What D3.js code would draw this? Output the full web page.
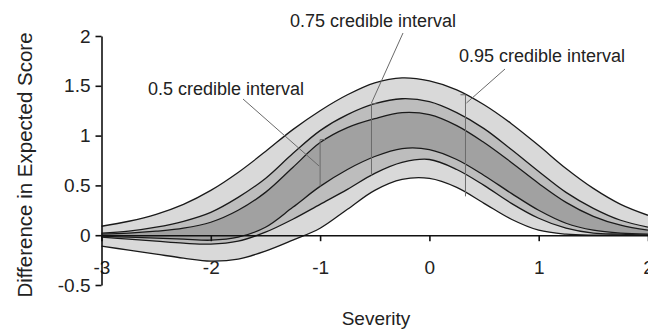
<!DOCTYPE html>
<html><head><meta charset="utf-8">
<script src="https://cdn.jsdelivr.net/npm/d3@7"></script>
<style>
html,body{margin:0;padding:0;background:#fff;}
svg{display:block;font-family:"Liberation Sans",Arial,sans-serif;}
</style></head>
<body><svg id="c" width="648" height="331"></svg>
<script>
// ---- data ----
const severity = [-3,-2.75,-2.5,-2.25,-2,-1.75,-1.5,-1.25,-1,-0.75,-0.5,-0.25,0,0.25,0.5,0.75,1,1.25,1.5,1.75,2];
const upper95 = [0.09,0.14,0.21,0.31,0.45,0.63,0.84,1.06,1.25,1.41,1.53,1.58,1.55,1.46,1.31,1.12,0.90,0.67,0.47,0.31,0.20];
const upper75 = [0.02,0.04,0.08,0.14,0.23,0.38,0.57,0.82,1.05,1.21,1.32,1.37,1.34,1.23,1.07,0.86,0.64,0.43,0.27,0.15,0.08];
const upper50 = [0.01,0.02,0.04,0.07,0.13,0.25,0.43,0.68,0.93,1.08,1.17,1.23,1.21,1.10,0.93,0.73,0.52,0.33,0.19,0.10,0.05];
const lower50 = [-0.01,-0.02,-0.03,-0.04,-0.05,-0.02,0.08,0.28,0.49,0.66,0.79,0.87,0.86,0.76,0.60,0.42,0.25,0.12,0.05,0.02,0.01];
const lower75 = [-0.02,-0.04,-0.06,-0.08,-0.09,-0.06,0.03,0.16,0.31,0.46,0.62,0.73,0.76,0.66,0.50,0.32,0.17,0.07,0.02,0.01,0.0];
const lower95 = [-0.11,-0.15,-0.19,-0.23,-0.26,-0.24,-0.16,-0.05,0.07,0.26,0.45,0.56,0.57,0.48,0.32,0.16,0.05,0.01,0.0,0.0,0.0];
const xTicks = [-3,-2,-1,0,1,2];
const yTicks = [-0.5,0,0.5,1,1.5,2];
const intervalNames = ["0.5 credible interval","0.75 credible interval","0.95 credible interval"];
const markerX = [-1,-0.53,0.33];
const markerTop = [0.96,1.32,1.41];
const markerBottom = [0.49,0.60,0.39];

// ---- layout ----
const svg = d3.select("#c");
const x = d3.scaleLinear().domain([-3,2]).range([101.5,648]);
const y = d3.scaleLinear().domain([-0.5,2]).range([285,36]);
const curve = d3.curveCatmullRom.alpha(0.5);

const bands = [
  {u:upper95,l:lower95,fill:"#d9d9d9"},
  {u:upper75,l:lower75,fill:"#bdbdbd"},
  {u:upper50,l:lower50,fill:"#a1a1a1"}
];
const area = d3.area().curve(curve);
bands.forEach(b=>{
  const pts = severity.map((s,i)=>({x:s,u:b.u[i],l:b.l[i]}));
  svg.append("path").datum(pts)
    .attr("d", area.x(d=>x(d.x)).y0(d=>y(d.l)).y1(d=>y(d.u)))
    .attr("fill", b.fill);
});
const line = d3.line().curve(curve);
[upper95,upper75,upper50,lower50,lower75,lower95].forEach(arr=>{
  svg.append("path").datum(severity.map((s,i)=>[x(s),y(arr[i])]))
    .attr("d", line).attr("fill","none").attr("stroke","#1a1a1a").attr("stroke-width",1.3);
});

// markers and leaders
const capDir = [1,1,-1];
markerX.forEach((m,i)=>{
  const g = svg.append("g").attr("stroke","#6a6a6a").attr("stroke-width",1).attr("fill","none");
  g.append("path").attr("d",`M${x(m)+capDir[i]*5},${y(markerTop[i])}H${x(m)}V${y(markerBottom[i])}`);
});
const labelPos = [[148,95],[290,27],[459,62]];
const leaderStart = [[243,99],[403,33],[505,69]];
const leaderEnd = [[x(markerX[0])-1,166],[x(markerX[1]),103],[x(markerX[2])+1,103]];
intervalNames.forEach((t,i)=>{
  svg.append("line").attr("x1",leaderStart[i][0]).attr("y1",leaderStart[i][1])
    .attr("x2",leaderEnd[i][0]).attr("y2",leaderEnd[i][1])
    .attr("stroke","#6a6a6a").attr("stroke-width",1);
  svg.append("text").attr("x",labelPos[i][0]).attr("y",labelPos[i][1])
    .attr("font-size",18).attr("fill","#222").text(t);
});

// axes
const xAxis = svg.append("g").attr("transform",`translate(0,${y(0)})`)
  .call(d3.axisBottom(x).tickValues(xTicks).tickSize(6).tickSizeOuter(0).tickPadding(19).tickFormat(d=>String(d)));
const yAxis = svg.append("g").attr("transform",`translate(${x(-3)},0)`)
  .call(d3.axisLeft(y).tickValues(yTicks).tickSize(6).tickSizeOuter(0).tickPadding(5).tickFormat(d=>String(d)));
[xAxis,yAxis].forEach(a=>{
  a.selectAll("path,line").attr("stroke","#111").attr("stroke-width",1.6);
  a.selectAll("text").attr("font-size",19).attr("fill","#222").attr("font-family","Liberation Sans, Arial, sans-serif");
});

svg.append("text").attr("x",376).attr("y",325).attr("text-anchor","middle")
  .attr("font-size",19).attr("fill","#222").text("Severity");
svg.append("text").attr("transform","translate(32,165) rotate(-90)").attr("text-anchor","middle")
  .attr("font-size",20.5).attr("fill","#222").text("Difference in Expected Score");
</script></body></html>
